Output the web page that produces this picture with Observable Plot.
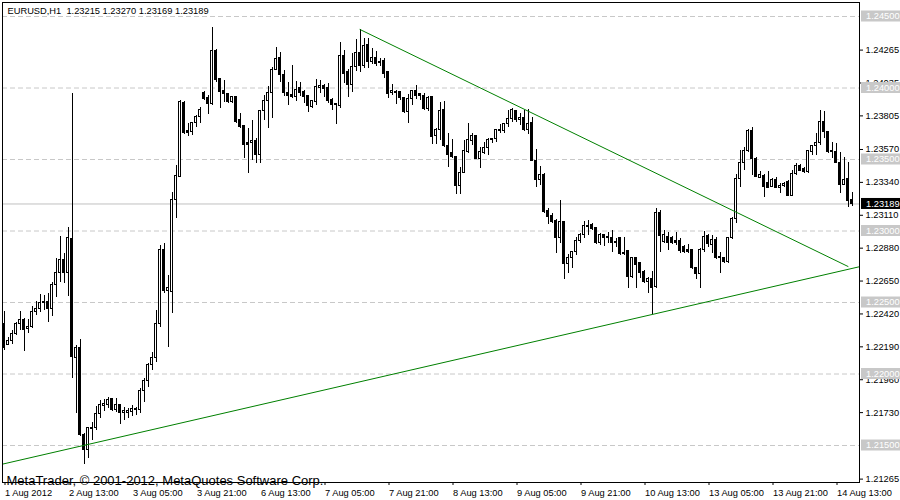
<!DOCTYPE html>
<html><head><meta charset="utf-8">
<script src="https://cdn.jsdelivr.net/npm/d3@7"></script>
<script src="https://cdn.jsdelivr.net/npm/@observablehq/plot@0.6"></script>
<style>html,body{margin:0;padding:0;background:#fff;} #chart svg{display:block;}</style>
</head><body><div id="chart"></div>
<script>
// EURUSD H1, 1 Aug 2012 21:00 .. 14 Aug 2012 17:00 (bar index 0..212)
const openP = [1.22353,1.22206,1.22234,1.22283,1.22353,1.22381,1.22318,1.22332,1.22437,1.22458,1.22500,1.22507,1.22458,1.22619,1.22703,1.22794,1.22703,1.22941,1.22115,1.22185,
1.21570,1.21472,1.21616,1.21619,1.21717,1.21776,1.21780,1.21822,1.21745,1.21780,1.21724,1.21727,1.21731,1.21745,1.21745,1.21878,1.21948,1.22060,1.22115,1.22353,
1.22864,1.22577,1.22570,1.23220,1.23381,1.23892,1.23696,1.23689,1.23752,1.23794,1.23962,1.23927,1.23885,1.24262,1.24060,1.23976,1.23955,1.23899,1.23934,1.23773,
1.23731,1.23612,1.23612,1.23626,1.23528,1.23836,1.23906,1.23962,1.24129,1.24213,1.24088,1.23962,1.23948,1.23934,1.23997,1.23969,1.23941,1.23864,1.23899,1.23997,
1.24011,1.23997,1.23913,1.23885,1.23871,1.24227,1.24109,1.24018,1.24150,1.24248,1.24157,1.24304,1.24185,1.24213,1.24185,1.24192,1.24109,1.23962,1.23969,1.23969,
1.23927,1.23829,1.23920,1.23976,1.23955,1.23941,1.23850,1.23934,1.23661,1.23703,1.23843,1.23591,1.23542,1.23514,1.23318,1.23409,1.23549,1.23626,1.23661,1.23507,
1.23542,1.23577,1.23633,1.23640,1.23696,1.23696,1.23745,1.23780,1.23836,1.23773,1.23787,1.23703,1.23752,1.23493,1.23360,1.23395,1.23143,1.23102,1.23067,1.22948,
1.23060,1.22766,1.22808,1.22850,1.22927,1.22969,1.23025,1.23039,1.23018,1.22913,1.22969,1.22955,1.22948,1.22913,1.22948,1.22843,1.22857,1.22675,1.22808,1.22773,
1.22710,1.22640,1.22661,1.22605,1.23129,1.22920,1.22955,1.22948,1.22927,1.22927,1.22885,1.22864,1.22864,1.22738,1.22696,1.22864,1.22962,1.22899,1.22934,1.22815,
1.22808,1.22780,1.22948,1.23081,1.23367,1.23479,1.23556,1.23696,1.23507,1.23374,1.23388,1.23339,1.23311,1.23360,1.23304,1.23318,1.23346,1.23248,1.23402,1.23458,
1.23437,1.23416,1.23549,1.23591,1.23612,1.23759,1.23689,1.23556,1.23549,1.23479,1.23325,1.23367,1.23215];
const highP = [1.22437,1.22255,1.22304,1.22360,1.22437,1.22388,1.22381,1.22472,1.22507,1.22556,1.22549,1.22563,1.22640,1.22808,1.22962,1.22843,1.23025,1.23962,1.22200,1.22241,
1.21584,1.21626,1.21661,1.21773,1.21815,1.21822,1.21836,1.21829,1.21829,1.21787,1.21766,1.21759,1.21780,1.21766,1.21899,1.21969,1.22074,1.22150,1.22444,1.22899,
1.22913,1.22689,1.23269,1.23458,1.23913,1.23906,1.23752,1.23759,1.23808,1.23864,1.23976,1.23948,1.24423,1.24269,1.24067,1.24053,1.23962,1.23941,1.23941,1.23822,
1.23738,1.23717,1.23773,1.23647,1.23843,1.23948,1.24011,1.24143,1.24283,1.24248,1.24122,1.24039,1.24157,1.24046,1.24039,1.23983,1.23948,1.23913,1.24060,1.24053,
1.24025,1.24032,1.23927,1.23892,1.24318,1.24262,1.24129,1.24241,1.24339,1.24409,1.24346,1.24346,1.24276,1.24255,1.24206,1.24206,1.24116,1.24025,1.23983,1.23976,
1.23934,1.23955,1.23983,1.24018,1.23962,1.23962,1.23941,1.23941,1.23717,1.23899,1.23906,1.23682,1.23640,1.23521,1.23444,1.23633,1.23752,1.23682,1.23668,1.23584,
1.23619,1.23647,1.23647,1.23710,1.23745,1.23752,1.23843,1.23857,1.23843,1.23822,1.23843,1.23850,1.23794,1.23570,1.23451,1.23402,1.23157,1.23122,1.23081,1.23213,
1.23067,1.22836,1.22857,1.22955,1.22983,1.23067,1.23074,1.23053,1.23025,1.22983,1.22976,1.22990,1.23004,1.22948,1.22955,1.22955,1.22864,1.22815,1.22815,1.22780,
1.22724,1.22675,1.22717,1.23157,1.23143,1.23004,1.22990,1.22962,1.22990,1.22948,1.22899,1.22906,1.22871,1.22745,1.22878,1.22997,1.22976,1.22969,1.22955,1.22850,
1.22815,1.22955,1.23095,1.23395,1.23563,1.23584,1.23710,1.23724,1.23514,1.23416,1.23395,1.23416,1.23367,1.23374,1.23332,1.23339,1.23353,1.23423,1.23472,1.23465,
1.23444,1.23563,1.23598,1.23682,1.23843,1.23836,1.23696,1.23619,1.23612,1.23549,1.23514,1.23479,1.23270];
const lowP = [1.22164,1.22199,1.22206,1.22269,1.22304,1.22157,1.22283,1.22318,1.22409,1.22430,1.22444,1.22360,1.22402,1.22535,1.22640,1.22633,1.22542,1.21969,1.21724,1.21563,
1.21367,1.21409,1.21535,1.21605,1.21689,1.21738,1.21759,1.21738,1.21731,1.21647,1.21675,1.21689,1.21703,1.21710,1.21724,1.21801,1.21906,1.22025,1.22081,1.22325,
1.22563,1.22185,1.22423,1.23088,1.23374,1.23675,1.23661,1.23668,1.23724,1.23752,1.23913,1.23815,1.23878,1.24039,1.23857,1.23899,1.23892,1.23892,1.23752,1.23717,
1.23507,1.23402,1.23493,1.23472,1.23472,1.23773,1.23717,1.23787,1.24122,1.24039,1.23941,1.23878,1.23927,1.23906,1.23941,1.23892,1.23829,1.23857,1.23878,1.23962,
1.23934,1.23892,1.23843,1.23745,1.23857,1.24032,1.23934,1.23969,1.24115,1.24109,1.24136,1.24136,1.24164,1.24150,1.24150,1.24067,1.23927,1.23948,1.23885,1.23913,
1.23822,1.23752,1.23878,1.23920,1.23913,1.23843,1.23836,1.23605,1.23605,1.23633,1.23584,1.23444,1.23507,1.23255,1.23255,1.23402,1.23542,1.23598,1.23500,1.23437,
1.23535,1.23528,1.23612,1.23619,1.23682,1.23682,1.23724,1.23759,1.23759,1.23738,1.23696,1.23675,1.23486,1.23304,1.23318,1.23122,1.23046,1.23053,1.22843,1.22913,
1.22661,1.22703,1.22738,1.22829,1.22913,1.22948,1.22969,1.23004,1.22906,1.22899,1.22892,1.22913,1.22850,1.22885,1.22829,1.22829,1.22598,1.22668,1.22598,1.22668,
1.22633,1.22563,1.22416,1.22598,1.22850,1.22913,1.22864,1.22906,1.22899,1.22843,1.22843,1.22843,1.22731,1.22661,1.22598,1.22850,1.22885,1.22843,1.22801,1.22703,
1.22773,1.22773,1.22941,1.23053,1.23304,1.23423,1.23549,1.23388,1.23374,1.23367,1.23234,1.23297,1.23304,1.23297,1.23262,1.23304,1.23241,1.23241,1.23388,1.23416,
1.23402,1.23402,1.23528,1.23528,1.23598,1.23647,1.23542,1.23507,1.23472,1.23262,1.23318,1.23164,1.23169];
const closeP = [1.22185,1.22234,1.22283,1.22353,1.22381,1.22311,1.22332,1.22437,1.22458,1.22500,1.22507,1.22458,1.22619,1.22703,1.22794,1.22703,1.22948,1.22122,1.22185,1.21570,
1.21472,1.21619,1.21623,1.21717,1.21780,1.21787,1.21815,1.21745,1.21780,1.21724,1.21738,1.21738,1.21752,1.21752,1.21878,1.21948,1.22060,1.22115,1.22353,1.22864,
1.22577,1.22598,1.23220,1.23388,1.23899,1.23682,1.23682,1.23752,1.23794,1.23843,1.23920,1.23885,1.24262,1.24053,1.23969,1.23955,1.23899,1.23934,1.23759,1.23724,
1.23598,1.23598,1.23626,1.23528,1.23836,1.23906,1.23962,1.24129,1.24206,1.24088,1.23962,1.23941,1.23934,1.23983,1.23962,1.23934,1.23871,1.23906,1.24004,1.24011,
1.23990,1.23906,1.23878,1.23878,1.24227,1.24101,1.24018,1.24150,1.24248,1.24157,1.24297,1.24185,1.24213,1.24171,1.24178,1.24101,1.23955,1.23976,1.23962,1.23927,
1.23829,1.23920,1.23976,1.23941,1.23941,1.23850,1.23927,1.23654,1.23703,1.23836,1.23591,1.23528,1.23514,1.23318,1.23409,1.23556,1.23633,1.23661,1.23507,1.23549,
1.23577,1.23633,1.23640,1.23703,1.23703,1.23745,1.23780,1.23843,1.23773,1.23787,1.23703,1.23745,1.23493,1.23360,1.23395,1.23136,1.23095,1.23060,1.22948,1.23060,
1.22766,1.22808,1.22850,1.22927,1.22969,1.23032,1.23032,1.23011,1.22913,1.22969,1.22948,1.22948,1.22913,1.22920,1.22836,1.22836,1.22675,1.22808,1.22759,1.22703,
1.22640,1.22661,1.22598,1.23129,1.22962,1.22969,1.22913,1.22913,1.22913,1.22857,1.22850,1.22850,1.22738,1.22696,1.22864,1.22955,1.22906,1.22934,1.22808,1.22808,
1.22780,1.22948,1.23081,1.23367,1.23479,1.23556,1.23696,1.23507,1.23381,1.23395,1.23311,1.23304,1.23360,1.23304,1.23318,1.23332,1.23248,1.23402,1.23458,1.23423,
1.23416,1.23556,1.23591,1.23612,1.23759,1.23689,1.23549,1.23549,1.23479,1.23325,1.23360,1.23213,1.23189];

const timeTickBars = [0,16,32,48,64,80,96,112,128,144,160,176,192,208];
const timeTickLabels = ["1 Aug 2012","2 Aug 13:00","3 Aug 05:00","3 Aug 21:00","6 Aug 13:00","7 Aug 05:00","7 Aug 21:00","8 Aug 13:00","9 Aug 05:00","9 Aug 21:00","10 Aug 13:00","13 Aug 05:00","13 Aug 21:00","14 Aug 13:00"];
const priceTicks = [1.24265,1.24035,1.23805,1.23570,1.23340,1.23110,1.22880,1.22650,1.22420,1.22190,1.21960,1.21730,1.21265];
const levelLines = [1.245,1.240,1.235,1.230,1.225,1.220,1.215];
const currentPrice = 1.23189;
const titleText = "EURUSD,H1\u00a0 1.23215 1.23270 1.23169 1.23189";
const copyrightText = "MetaTrader, \u00a9 2001-2012, MetaQuotes Software Corp.";
const resistance = [{bar:89, price:1.24409},{bar:211, price:1.22752}];
const supportAnchors = [{bar:20, price:1.21501},{bar:162, price:1.22416}];

const candles = openP.map((o,i)=>({bar:i, open:o, high:highP[i], low:lowP[i], close:closeP[i]}));
const xDomain = [-0.375, 213.875];
const yDomain = [1.212413, 1.245979];
const slope = (supportAnchors[1].price - supportAnchors[0].price)/(supportAnchors[1].bar - supportAnchors[0].bar);
const support = xDomain.map(b => ({bar:b, price: supportAnchors[0].price + slope*(b - supportAnchors[0].bar)}));
const labelByBar = new Map(timeTickBars.map((b,i)=>[b, timeTickLabels[i]]));

const FONT = "'Liberation Sans', Arial, sans-serif";
const chart = Plot.plot({
  width:900, height:500,
  marginLeft:2, marginRight:41, marginTop:2, marginBottom:18,
  style:{fontFamily:FONT, fontSize:"9.3px", color:"#000", background:"#fff"},
  x:{domain:xDomain, label:null},
  y:{domain:yDomain, label:null},
  color:{type:"identity"},
  marks:[
    Plot.ruleY(levelLines,{stroke:"#c8c8c8", strokeDasharray:"5,3"}),
    Plot.ruleY([currentPrice],{stroke:"#c0c0c0"}),
    Plot.ruleX(candles,{x:"bar", y1:"low", y2:"high", stroke:"#000", shapeRendering:"crispEdges"}),
    Plot.rect(candles,{x1:d=>d.bar-0.25, x2:d=>d.bar+0.25, y1:"open", y2:"close", fill:d=>d.close>=d.open?"#ffffff":"#000000", stroke:"#000", shapeRendering:"crispEdges"}),
    Plot.line(resistance,{x:"bar", y:"price", stroke:"#008000", strokeWidth:1}),
    Plot.line(support,{x:"bar", y:"price", stroke:"#008000", strokeWidth:1}),
    Plot.frame({stroke:"#000", shapeRendering:"crispEdges"}),
    Plot.axisY({anchor:"right", label:null, ticks:priceTicks, tickFormat:d=>d.toFixed(5), tickSize:3, tickPadding:3, fontSize:9.3}),
    Plot.axisX({anchor:"bottom", label:null, ticks:timeTickBars, tickFormat:d=>labelByBar.get(d), tickSize:3, tickPadding:4, textAnchor:"start", dx:1, fontSize:9.3}),
    Plot.text([titleText],{text:d=>d, frameAnchor:"top-left", dx:5, dy:5, lineAnchor:"top", fontSize:9.3}),
    Plot.text([copyrightText],{text:d=>d, frameAnchor:"bottom-left", dx:4, dy:2, lineAnchor:"bottom", fontSize:13})
  ]
});

const ys = chart.scale("y");
const svg = d3.select(chart);
function priceBox(v, bg, fg){
  const y = ys.apply(v);
  svg.append("rect").attr("x",861).attr("y",y-5.5).attr("width",39).attr("height",11).attr("fill",bg);
  svg.append("text").attr("x",866).attr("y",y+3.3).attr("fill",fg).attr("text-anchor","start")
    .attr("font-family",FONT).attr("font-size","9.3px").text(v.toFixed(5));
}
levelLines.forEach(v=>priceBox(v,"#c8c8c8","#ffffff"));
priceBox(currentPrice,"#000000","#ffffff");
document.getElementById("chart").appendChild(chart);
</script>
</body></html>
